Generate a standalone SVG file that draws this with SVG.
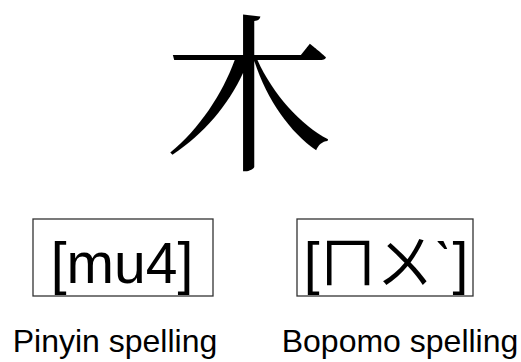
<svg xmlns="http://www.w3.org/2000/svg" width="521" height="362" viewBox="0 0 521 362">
<style>
.box{fill:#fff;stroke:#333;stroke-width:1.3}
.lbl{font-family:"Liberation Sans",Arial,sans-serif;font-size:32px;fill:#000;text-anchor:middle}
.big{font-family:"Liberation Sans","Noto Sans CJK TC",sans-serif;font-size:57px;fill:#000;text-anchor:middle}
.han{font-family:"Noto Serif CJK TC","Noto Sans CJK TC",serif;font-size:170px;fill:#000;text-anchor:middle}
</style>
<rect width="521" height="362" fill="#fff"/>
<g id="character"><text class="han" x="249" y="158">木</text></g>
<g id="pinyin">
<rect class="box" x="33" y="219" width="180" height="77"/>
<text class="big" x="122" y="283">[mu4]</text>
</g>
<g id="bopomo">
<rect class="box" x="297" y="219" width="176" height="77"/>
<text class="big" x="386" y="283">[ㄇㄨˋ]</text>
</g>
<g id="labels">
<text class="lbl" x="115" y="352">Pinyin spelling</text>
<text class="lbl" x="400" y="352">Bopomo spelling</text>
</g>
</svg>
